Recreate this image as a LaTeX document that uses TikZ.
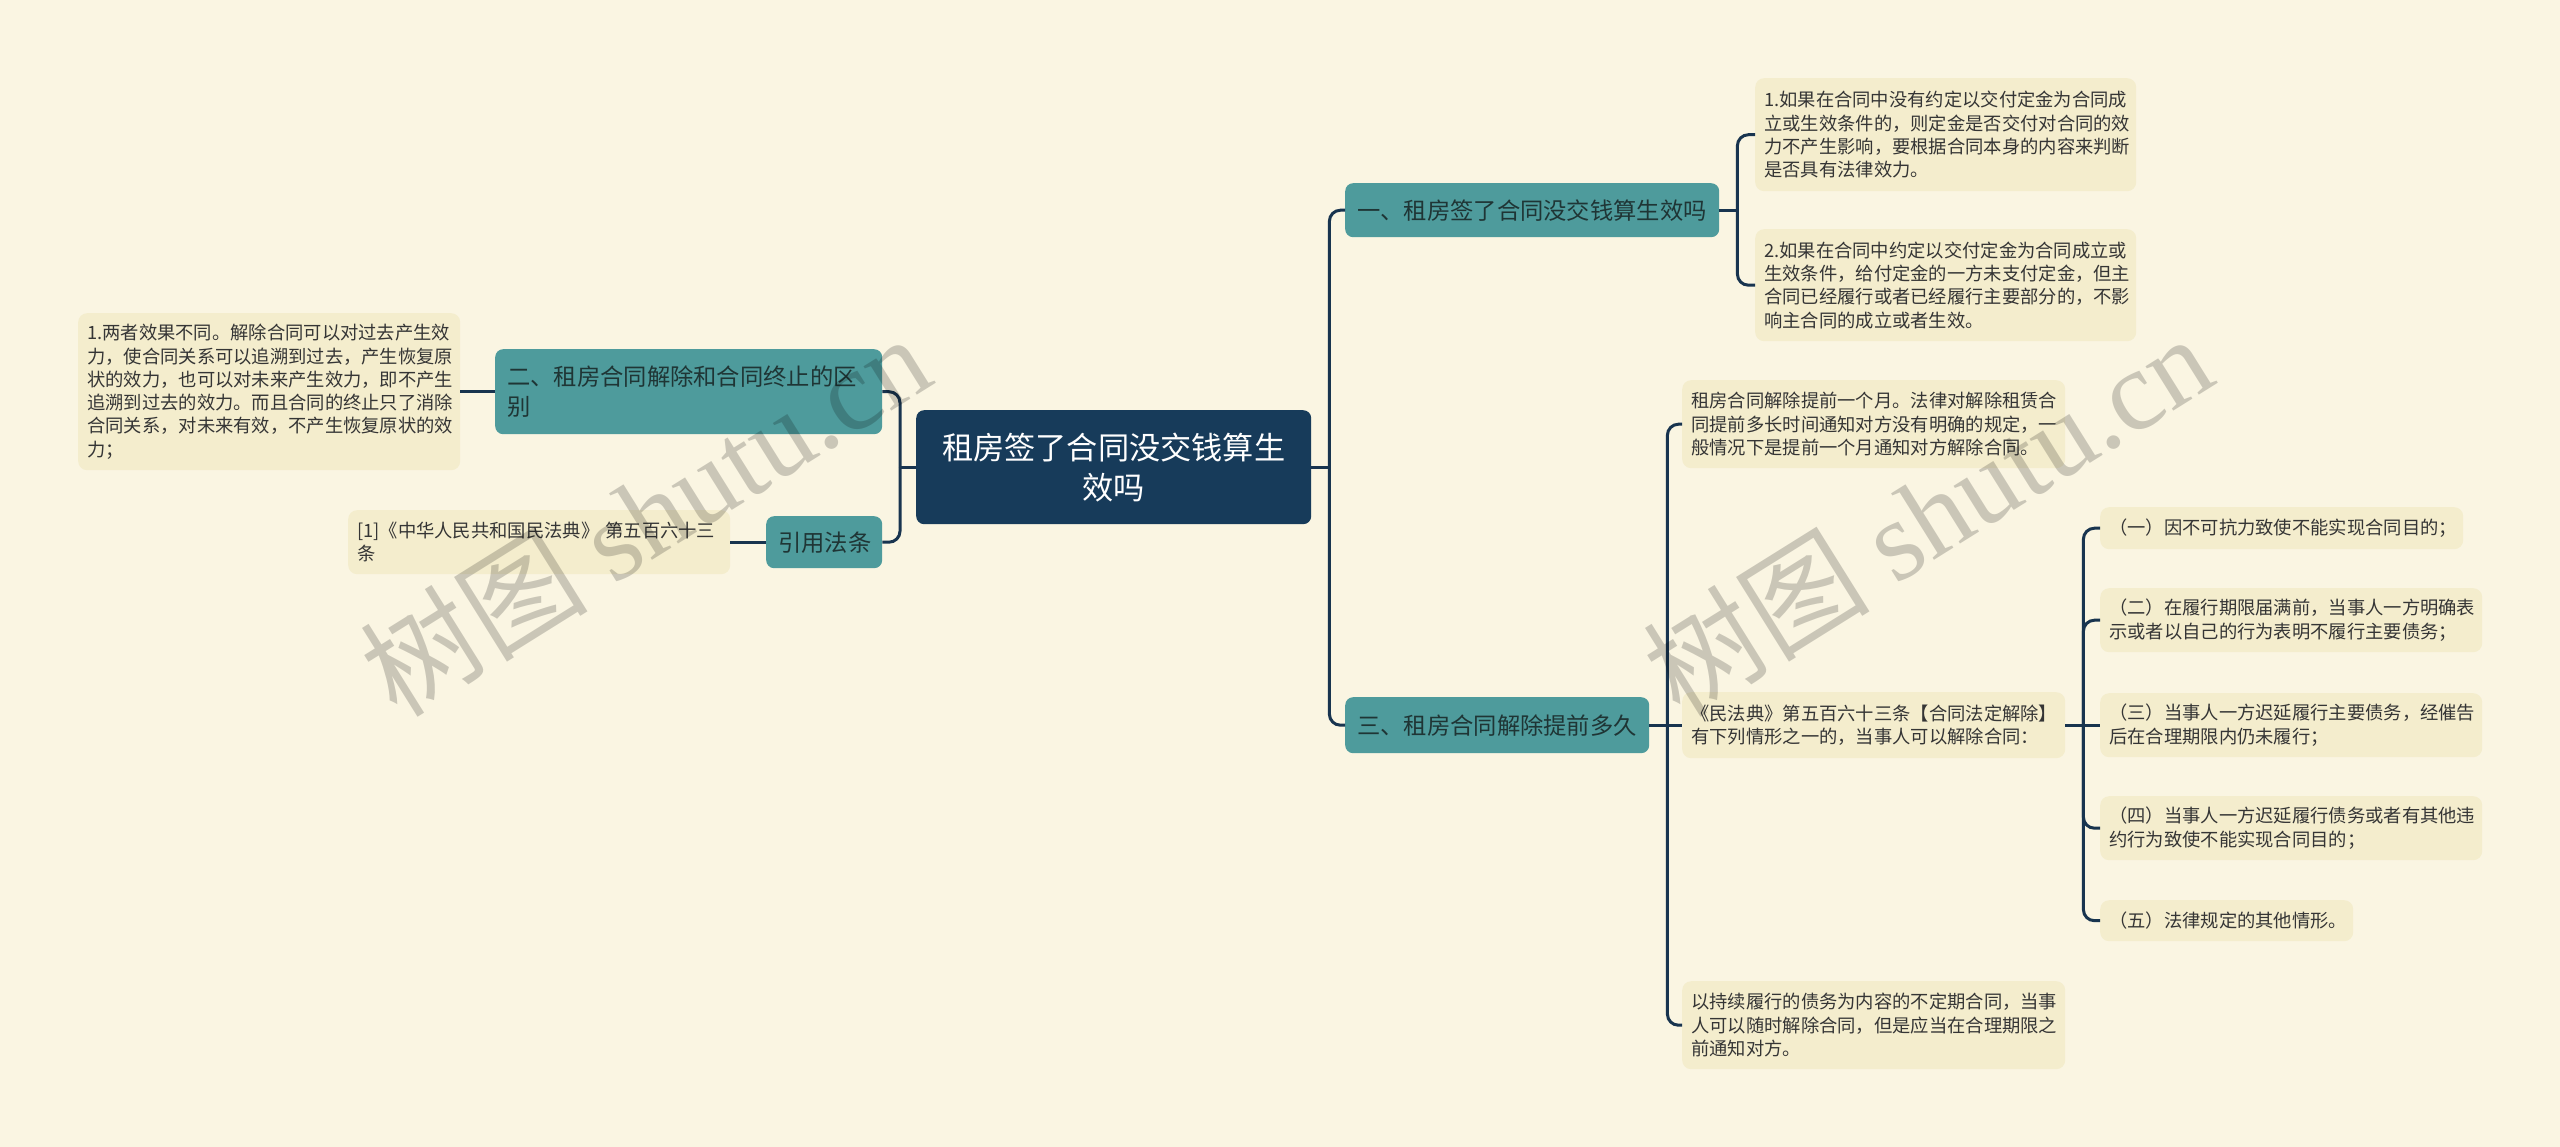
\documentclass[tikz,border=0pt]{standalone}
\usepackage{fontspec}
\setmainfont{Noto Sans CJK SC}
\newfontfamily\wmserif{Liberation Serif}
\definecolor{bgc}{HTML}{FAF5E2}
\definecolor{leafc}{HTML}{F4EDCD}
\definecolor{tealc}{HTML}{4E9B9C}
\definecolor{rootc}{HTML}{173B5A}
\definecolor{linec}{HTML}{18344F}
\definecolor{leaftext}{HTML}{353535}
\definecolor{tealtext}{HTML}{1F3535}
\tikzset{
  leaf/.style={fill=leafc, rounded corners=9pt, align=left, text=leaftext,
    inner xsep=9pt, inner ysep=0pt, anchor=north west,
    font=\fontsize{18.3}{23.3}\selectfont},
  topic/.style={fill=tealc, rounded corners=8pt, align=left, text=tealtext,
    inner xsep=12pt, inner ysep=0pt, anchor=north west,
    font=\fontsize{23.3}{30}\selectfont},
  rootbox/.style={fill=rootc, rounded corners=8pt, align=center, text=white,
    inner xsep=10pt, inner ysep=0pt, anchor=north west,
    font=\fontsize{31.2}{40}\selectfont},
  conn/.style={draw=linec, line width=3pt, rounded corners=11pt},
  wm/.style={text=black, opacity=0.19, font=\fontsize{114}{114}\selectfont, rotate=32}
}
\begin{document}
\begin{tikzpicture}[x=1pt,y=-1pt]
\fill[bgc] (0,0) rectangle (2560,1147);
\useasboundingbox (0,0) rectangle (2560,1147);

% root
\node[rootbox, minimum width=395pt, minimum height=114pt, text width=375pt] (root) at (916,410)
  {租房签了合同没交钱算生\\效吗};

% topics
\node[topic, minimum width=374pt, minimum height=54pt, text width=350pt] (n1) at (1345,183)
  {一、租房签了合同没交钱算生效吗};
\node[topic, minimum width=304pt, minimum height=56pt, text width=280pt] (n3) at (1345,697)
  {三、租房合同解除提前多久};
\node[topic, minimum width=387pt, minimum height=85pt, text width=363pt] (n2) at (495,349)
  {二、租房合同解除和合同终止的区\\别};
\node[topic, minimum width=116pt, minimum height=52pt, text width=92pt] (nref) at (766,516)
  {引用法条};

% leaves
\node[leaf, minimum height=113pt, text width=363pt] (l1a) at (1755,78)
  {1.如果在合同中没有约定以交付定金为合同成\\立或生效条件的，则定金是否交付对合同的效\\力不产生影响，要根据合同本身的内容来判断\\是否具有法律效力。};
\node[leaf, minimum height=112pt, text width=363pt] (l1b) at (1755,229)
  {2.如果在合同中约定以交付定金为合同成立或\\生效条件，给付定金的一方未支付定金，但主\\合同已经履行或者已经履行主要部分的，不影\\响主合同的成立或者生效。};
\node[leaf, minimum height=157pt, text width=364pt] (l2) at (78,313)
  {1.两者效果不同。解除合同可以对过去产生效\\力，使合同关系可以追溯到过去，产生恢复原\\状的效力，也可以对未来产生效力，即不产生\\追溯到过去的效力。而且合同的终止只了消除\\合同关系，对未来有效，不产生恢复原状的效\\力；};
\node[leaf, minimum height=64pt, text width=364pt] (lref) at (348,510)
  {[1]《中华人民共和国民法典》 第五百六十三\\条};
\node[leaf, minimum height=88pt, text width=365pt] (l3a) at (1682,380)
  {租房合同解除提前一个月。法律对解除租赁合\\同提前多长时间通知对方没有明确的规定，一\\般情况下是提前一个月通知对方解除合同。};
\node[leaf, minimum height=66pt, text width=365pt] (l3b) at (1682,692)
  {《民法典》第五百六十三条【合同法定解除】\\有下列情形之一的，当事人可以解除合同：};
\node[leaf, minimum height=88pt, text width=365pt] (l3c) at (1682,981)
  {以持续履行的债务为内容的不定期合同，当事\\人可以随时解除合同，但是应当在合理期限之\\前通知对方。};

% sub items
\node[leaf, minimum height=42pt, text width=345pt] (s1) at (2100,507)
  {（一）因不可抗力致使不能实现合同目的；};
\node[leaf, minimum height=64pt, text width=364pt] (s2) at (2100,588)
  {（二）在履行期限届满前，当事人一方明确表\\示或者以自己的行为表明不履行主要债务；};
\node[leaf, minimum height=64pt, text width=364pt] (s3) at (2100,693)
  {（三）当事人一方迟延履行主要债务，经催告\\后在合理期限内仍未履行；};
\node[leaf, minimum height=64pt, text width=364pt] (s4) at (2100,796)
  {（四）当事人一方迟延履行债务或者有其他违\\约行为致使不能实现合同目的；};
\node[leaf, minimum height=41pt, text width=235pt] (s5) at (2100,900)
  {（五）法律规定的其他情形。};

% junctions
\coordinate (rj) at ([xshift=18pt]root.east);
\coordinate (lj) at ([xshift=-16pt]root.west);
\coordinate (j1) at ([xshift=18pt]n1.east);
\coordinate (j3) at ([xshift=18pt]n3.east);
\coordinate (j4) at ([xshift=18pt]l3b.east);

% connectors
\draw[conn] (root.east) -- (rj);
\draw[conn] (rj) |- (n1.west);
\draw[conn] (rj) |- (n3.west);
\draw[conn] (root.west) -- (lj);
\draw[conn] (lj) |- (n2.east);
\draw[conn] (lj) |- (nref.east);
\draw[conn] (n2.west) -- (l2.east);
\draw[conn] (nref.west) -- (lref.east);
\draw[conn] (n1.east) -- (j1);
\draw[conn] (j1) |- (l1a.west);
\draw[conn] (j1) |- (l1b.west);
\draw[conn] (n3.east) -- (j3);
\draw[conn] (j3) |- (l3a.west);
\draw[conn] (j3) -- (l3b.west);
\draw[conn] (j3) |- (l3c.west);
\draw[conn] (l3b.east) -- (j4);
\draw[conn] (j4) |- (s1.west);
\draw[conn] (j4) |- (s2.west);
\draw[conn] (j4) -- (s3.west);
\draw[conn] (j4) |- (s4.west);
\draw[conn] (j4) |- (s5.west);

% watermarks
\node[wm] (wm1) at (645,514) {树图 {\wmserif shutu.cn}};
\node[wm] (wm2) at (1927,514) {树图 {\wmserif shutu.cn}};
\end{tikzpicture}
\end{document}
